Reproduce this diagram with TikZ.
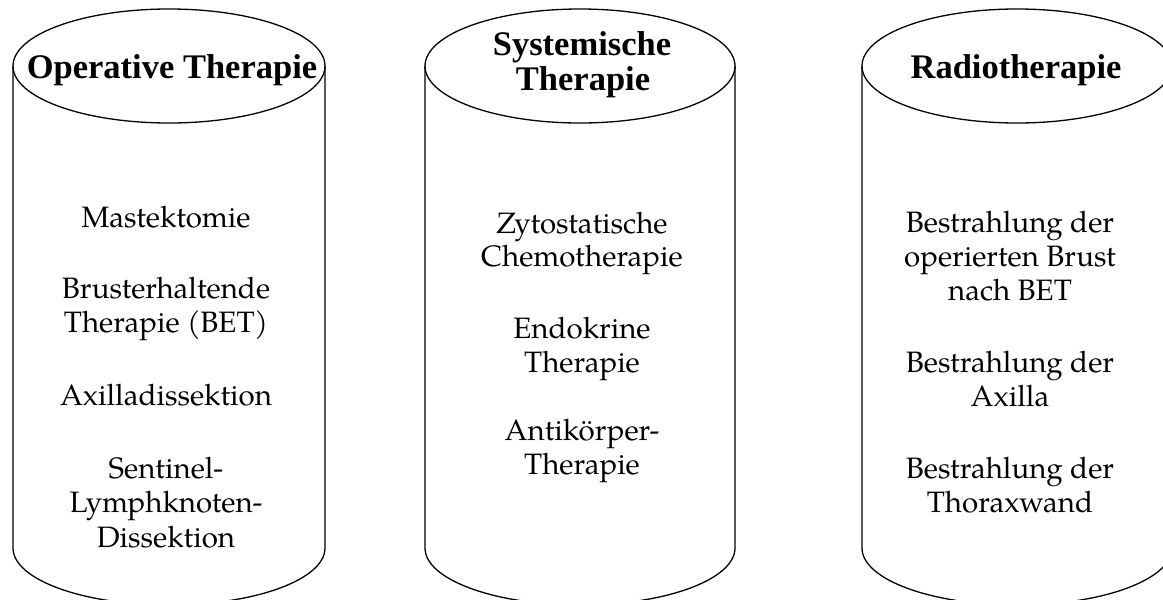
\documentclass[tikz,border=0pt]{standalone}
\usepackage{fontspec}
\newfontfamily\bodyfont{texgyrepagella-regular.otf}
\newfontfamily\titlefont{Liberation Serif}
\tikzset{
  cylline/.style={line width=1.3pt, black},
  ttl/.style={font=\titlefont\bfseries\fontsize{34.5}{36}\selectfont, anchor=base, inner sep=0pt},
  txt/.style={font=\bodyfont\fontsize{29.5}{34.5}\selectfont, anchor=base, inner sep=0pt},
}
\newcommand{\mycyl}[2]{%
  \draw[cylline] (#1,66) ellipse [x radius=#2, y radius=57];
  \draw[cylline] (#1-#2,66) -- (#1-#2,548) arc[start angle=180, end angle=0, x radius=#2, y radius=57] -- (#1+#2,66);
}
\begin{document}
\begin{tikzpicture}[x=1pt,y=-1pt]
\useasboundingbox (0,0) rectangle (1163,600);
\clip (0,0) rectangle (1163,600);
\mycyl{169}{156}
\mycyl{580}{155}
\mycyl{1017}{155}
% titles
\node[ttl] (t1) at (172,78) {Operative Therapie};
\node[ttl] (t2a) at (582,55) {Systemische};
\node[ttl] (t2b) at (583,90) {Therapie};
\node[ttl] (t3) at (1016,78) {Radiotherapie};
% column 1
\node[txt] (a1) at (166,227) {Mastektomie};
\node[txt] (a2) at (166,298) {Brusterhaltende};
\node[txt] (a3) at (166,332) {Therapie (BET)};
\node[txt] (a4) at (166,405) {Axilladissektion};
\node[txt] (a5) at (166,478) {Sentinel-};
\node[txt] (a6) at (166,512) {Lymphknoten-};
\node[txt] (a7) at (166,547) {Dissektion};
% column 2
\node[txt] (b1) at (582,233) {Zytostatische};
\node[txt] (b2) at (582,266) {Chemotherapie};
\node[txt] (b3) at (582,338) {Endokrine};
\node[txt] (b4) at (582,372) {Therapie};
\node[txt] (b5) at (582,440) {Antikörper-};
\node[txt] (b6) at (582,474) {Therapie};
% column 3
\node[txt] (c1) at (1010,232) {Bestrahlung der};
\node[txt] (c2) at (1010,266) {operierten Brust};
\node[txt] (c3) at (1010,300) {nach BET};
\node[txt] (c4) at (1010,372) {Bestrahlung der};
\node[txt] (c5) at (1010,406) {Axilla};
\node[txt] (c6) at (1010,478) {Bestrahlung der};
\node[txt] (c7) at (1010,512) {Thoraxwand};
\end{tikzpicture}
\end{document}
